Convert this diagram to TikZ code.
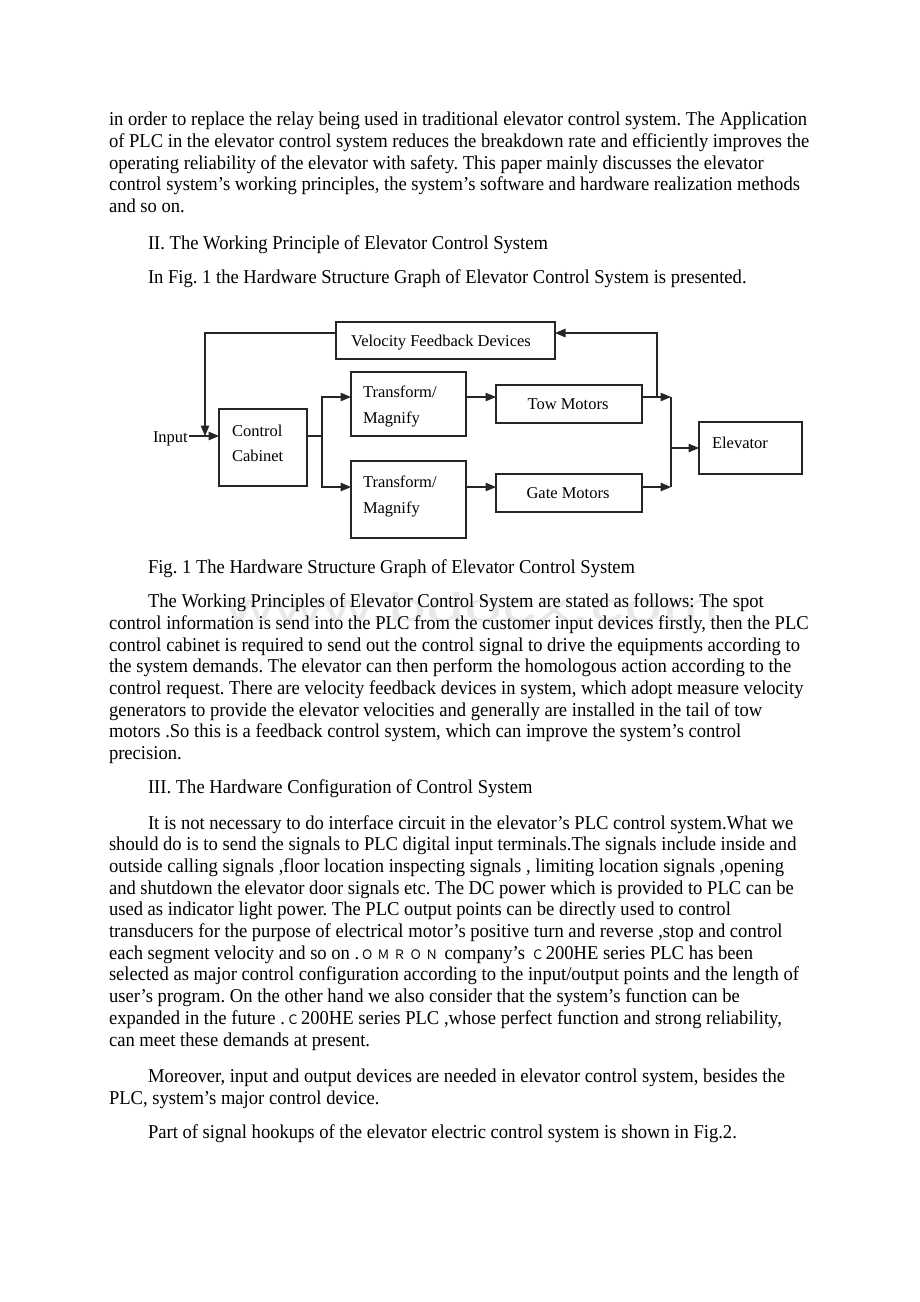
\documentclass[tikz,border=0pt]{standalone}
\usepackage{fontspec}
\setmainfont{Liberation Serif}
\newfontfamily\cjk{Noto Sans CJK SC}
\newfontfamily\wmfont{Liberation Sans}
\usetikzlibrary{arrows.meta}
\newsavebox\calbox
\newsavebox\wmbox
\newcommand\mainsize{\fontsize{19.6}{22}\selectfont}
\newcommand\fwc[1]{\makebox[17pt]{\cjk\fontsize{13}{13}\selectfont #1}}
\tikzset{
  txt/.style={anchor=base west, inner sep=0pt, outer sep=0pt},
  dtxt/.style={inner sep=0pt, outer sep=0pt, font=\fontsize{16.5}{20}\selectfont},
  box/.style={draw=black!85, line width=1.1pt, inner sep=0pt, outer sep=0pt},
  conn/.style={draw=black!85, line width=1.1pt},
  arr/.style={conn, -{Triangle[length=10.5pt,width=8.5pt]}}
}
\newcommand\pline[4]{\node[txt] (#1) at (#2,#3) {\scalebox{\hsc}[1]{\mainsize #4}};}
\newcommand\mkbox[5]{\node[box, minimum width=#4-#2, minimum height=#5-#3] (#1) at ({(#2+#4)/2},{(#3+#5)/2}) {};}
\frenchspacing
\begin{document}
\frenchspacing
\sbox\calbox{\mainsize control system’s working principles, the system’s software and hardware realization methods}%
\pgfmathsetmacro\hsc{691/\the\wd\calbox}%
\sbox\wmbox{\color{black!9}\wmfont\fontsize{40}{40}\selectfont www.bdocx.com}%
\pgfmathsetmacro\wsc{495/\the\wd\wmbox}%
\begin{tikzpicture}[x=1pt,y=-1pt]
\useasboundingbox[fill=white] (0,0) rectangle (920,1302);

% watermark
\node[txt, text=black!9] (wm) at (225,621) {\scalebox{\wsc}[1]{\usebox\wmbox}};

% paragraph 1
\pline{t1}{109}{125.7}{in order to replace the relay being used in traditional elevator control system. The Application}
\pline{t2}{109}{147.4}{of PLC in the elevator control system reduces the breakdown rate and efficiently improves the}
\pline{t3}{109}{169.1}{operating reliability of the elevator with safety. This paper mainly discusses the elevator}
\pline{t4}{109}{190.8}{control system’s working principles, the system’s software and hardware realization methods}
\pline{t5}{109}{212.5}{and so on.}
\pline{t6}{148}{249}{II. The Working Principle of Elevator Control System}
\pline{t7}{148}{283.3}{In Fig. 1 the Hardware Structure Graph of Elevator Control System is presented.}

% diagram
\mkbox{vfd}{336}{322}{555}{359}
\mkbox{cc}{219}{409}{307}{486}
\mkbox{tma}{351}{372}{466}{436}
\mkbox{tmb}{351}{461}{466}{538}
\mkbox{tow}{496}{385}{642}{423}
\mkbox{gate}{496}{474}{642}{512}
\mkbox{elev}{699}{422}{802}{474}

\node[dtxt, anchor=base] (vfdl) at (441,346) {Velocity Feedback Devices};
\node[dtxt, anchor=base west] (ccl1) at (232,436) {Control};
\node[dtxt, anchor=base west] (ccl2) at (232,461) {Cabinet};
\node[dtxt, anchor=base west] (tmal1) at (363,397) {Transform/};
\node[dtxt, anchor=base west] (tmal2) at (363,423) {Magnify};
\node[dtxt, anchor=base west] (tmbl1) at (363,487) {Transform/};
\node[dtxt, anchor=base west] (tmbl2) at (363,513) {Magnify};
\node[dtxt, anchor=base] (towl) at (568,409) {Tow Motors};
\node[dtxt, anchor=base] (gatel) at (568,498) {Gate Motors};
\node[dtxt, anchor=base west] (elevl) at (712,448) {Elevator};
\node[dtxt, anchor=base west, inner xsep=1pt] (inp) at (152,442) {Input};

\coordinate (fbL) at (205,333);
\coordinate (fbE) at (205,436);
\coordinate (s) at (322,436);
\coordinate (s1) at (322,397);
\coordinate (s2) at (322,487);
\coordinate (m1) at (671,397);
\coordinate (m2) at (671,487);
\coordinate (me) at (671,448);
\coordinate (f1) at (657,397);
\coordinate (f2) at (657,333);

\draw[arr] (inp.east |- fbE) -- (fbE -| cc.west);
\draw[arr] (fbL -| vfd.west) -- (fbL) -- (fbE);
\draw[conn] (cc.east |- s) -- (s);
\draw[arr] (s) -- (s1) -- (s1 -| tma.west);
\draw[arr] (s) -- (s2) -- (s2 -| tmb.west);
\draw[arr] (tma.east |- s1) -- (s1 -| tow.west);
\draw[arr] (tmb.east |- s2) -- (s2 -| gate.west);
\draw[arr] (tow.east |- m1) -- (m1);
\draw[arr] (gate.east |- m2) -- (m2);
\draw[conn] (m1) -- (m2);
\draw[arr] (me) -- (me -| elev.west);
\draw[arr] (f1) -- (f2) -- (f2 -| vfd.east);

% paragraph 2
\pline{t8}{148}{573}{Fig. 1 The Hardware Structure Graph of Elevator Control System}
\pline{t9}{148}{607.7}{The Working Principles of Elevator Control System are stated as follows: The spot}
\pline{t10}{109}{629.4}{control information is send into the PLC from the customer input devices firstly, then the PLC}
\pline{t11}{109}{651.1}{control cabinet is required to send out the control signal to drive the equipments according to}
\pline{t12}{109}{672.8}{the system demands. The elevator can then perform the homologous action according to the}
\pline{t13}{109}{694.5}{control request. There are velocity feedback devices in system, which adopt measure velocity}
\pline{t14}{109}{716.2}{generators to provide the elevator velocities and generally are installed in the tail of tow}
\pline{t15}{109}{737.9}{motors .So this is a feedback control system, which can improve the system’s control}
\pline{t16}{109}{759.6}{precision.}
\pline{t17}{148}{793.3}{III. The Hardware Configuration of Control System}

% paragraph 3
\pline{t18}{148}{829}{It is not necessary to do interface circuit in the elevator’s PLC control system.What we}
\pline{t19}{109}{850.7}{should do is to send the signals to PLC digital input terminals.The signals include inside and}
\pline{t20}{109}{872.4}{outside calling signals ,floor location inspecting signals , limiting location signals ,opening}
\pline{t21}{109}{894.1}{and shutdown the elevator door signals etc. The DC power which is provided to PLC can be}
\pline{t22}{109}{915.8}{used as indicator light power. The PLC output points can be directly used to control}
\pline{t23}{109}{937.5}{transducers for the purpose of electrical motor’s positive turn and reverse ,stop and control}
\pline{t24}{109}{959.2}{each segment velocity and so on .\fwc{Ｏ}\fwc{Ｍ}\fwc{Ｒ}\fwc{Ｏ}\fwc{Ｎ} company’s \fwc{Ｃ}200HE series PLC has been}
\pline{t25}{109}{980.9}{selected as major control configuration according to the input/output points and the length of}
\pline{t26}{109}{1002.6}{user’s program. On the other hand we also consider that the system’s function can be}
\pline{t27}{109}{1024.3}{expanded in the future .\fwc{Ｃ}200HE series PLC ,whose perfect function and strong reliability,}
\pline{t28}{109}{1046}{can meet these demands at present.}
\pline{t29}{148}{1082.7}{Moreover, input and output devices are needed in elevator control system, besides the}
\pline{t30}{109}{1104.4}{PLC, system’s major control device.}
\pline{t31}{148}{1138}{Part of signal hookups of the elevator electric control system is shown in Fig.2.}
\end{tikzpicture}
\end{document}
